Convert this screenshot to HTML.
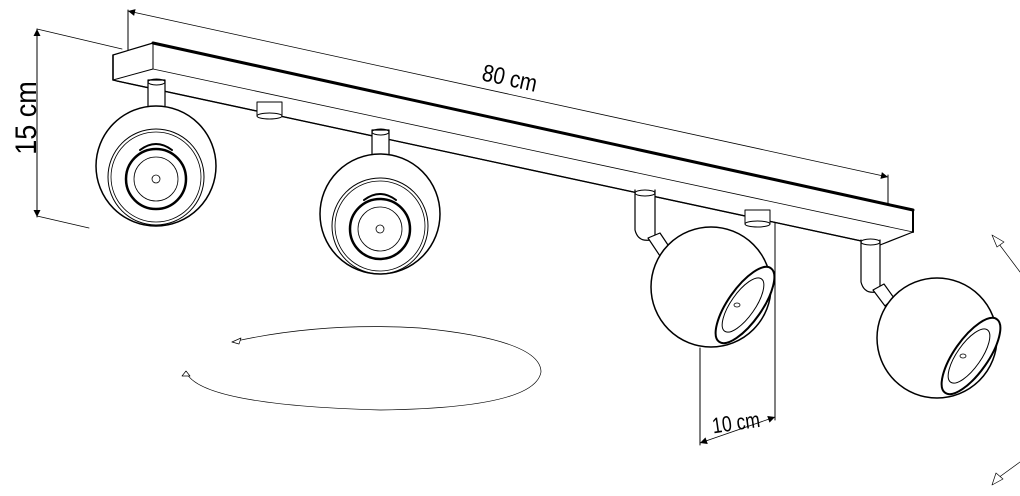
<!DOCTYPE html>
<html><head><meta charset="utf-8"><style>
html,body{margin:0;padding:0;background:#fff;}
svg{display:block;}
text{font-family:"Liberation Sans",Arial,sans-serif;fill:#000;}
</style></head><body>
<svg width="1020" height="496" viewBox="0 0 1020 496" xmlns="http://www.w3.org/2000/svg">
<defs>
<marker id="fa" viewBox="0 0 10 10" refX="10" refY="5" markerWidth="16" markerHeight="7" orient="auto-start-reverse" markerUnits="userSpaceOnUse"><path d="M0,0 L10,5 L0,10 z" fill="#000"/></marker>
</defs>
<g fill="none" stroke="#000" stroke-linecap="round" stroke-linejoin="round">
<line x1="128" y1="50" x2="128" y2="10" stroke-width="1"/>
<line x1="888" y1="205" x2="888" y2="175" stroke-width="1"/>
<line x1="128" y1="11" x2="888" y2="177" stroke-width="0.8" marker-start="url(#fa)" marker-end="url(#fa)"/>
<line x1="37" y1="29" x2="37" y2="217" stroke-width="1" marker-start="url(#fa)" marker-end="url(#fa)"/>
<line x1="37" y1="29" x2="122" y2="49" stroke-width="0.8"/>
<line x1="37" y1="216" x2="89" y2="228" stroke-width="0.8"/>
<line x1="700" y1="348" x2="700" y2="445" stroke-width="1"/>
<line x1="775" y1="195" x2="775" y2="420" stroke-width="1"/>
<line x1="700" y1="443" x2="775" y2="417" stroke-width="0.8" marker-start="url(#fa)" marker-end="url(#fa)"/>

<polygon points="113,55 153,43 913,210 913,232 880,245 117,81 113,80" fill="#fff" stroke-width="1.2"/>
<line x1="153" y1="43" x2="913" y2="210" stroke-width="3"/>
<line x1="153" y1="43" x2="153" y2="69" stroke-width="1"/>
<line x1="113" y1="55" x2="113" y2="80" stroke-width="1.5"/>
<line x1="113" y1="80" x2="153" y2="69" stroke-width="1"/>
<line x1="153" y1="69" x2="913" y2="232" stroke-width="0.8"/>
<line x1="117" y1="81" x2="880" y2="245" stroke-width="1.3"/>
<line x1="913" y1="210" x2="913" y2="232" stroke-width="2"/>
<rect x="257" y="102" width="25" height="14" fill="#fff" stroke-width="1"/>
<ellipse cx="269.5" cy="116" rx="12.5" ry="3" fill="#fff" stroke-width="1"/>
<rect x="745" y="210" width="25" height="14" fill="#fff" stroke-width="1"/>
<ellipse cx="757.5" cy="224" rx="12.5" ry="3" fill="#fff" stroke-width="1"/>

<rect x="148" y="80" width="17" height="30" fill="#fff" stroke-width="1.2"/>
<ellipse cx="156.5" cy="82" rx="8.5" ry="3" stroke-width="1"/>
<circle cx="156" cy="166" r="60" fill="#fff" stroke-width="1.5"/>
<circle cx="156" cy="177" r="48" stroke-width="1"/>
<circle cx="156" cy="177" r="45" stroke-width="0.8"/>
<circle cx="156" cy="179" r="30" stroke-width="2.5"/>
<circle cx="156" cy="179" r="22" stroke-width="0.8"/>
<circle cx="156" cy="179" r="4" stroke-width="0.8"/>
<path d="M140,150 Q156,138 172,150" stroke-width="2"/>

<rect x="372" y="130" width="17" height="26" fill="#fff" stroke-width="1.2"/>
<ellipse cx="380.5" cy="132" rx="8.5" ry="3" stroke-width="1"/>
<circle cx="380" cy="214" r="60" fill="#fff" stroke-width="1.5"/>
<circle cx="380" cy="226" r="48" stroke-width="1"/>
<circle cx="380" cy="226" r="45" stroke-width="0.8"/>
<circle cx="380" cy="229" r="30" stroke-width="2.5"/>
<circle cx="380" cy="229" r="22" stroke-width="0.8"/>
<circle cx="380" cy="229" r="4" stroke-width="0.8"/>
<path d="M364,200 Q380,188 396,200" stroke-width="2"/>

<path d="M635,190 L635,230 Q638,242 650,240 L655,235 L655,190" fill="#fff" stroke-width="1.2"/>
<ellipse cx="645" cy="193" rx="10" ry="3" stroke-width="1"/>
<path d="M648,238 L660,256 L670,248 L660,233 z" fill="#fff" stroke-width="1.2"/>
<circle cx="711" cy="287" r="60" fill="#fff" stroke-width="1.5"/>
<ellipse cx="745" cy="305" rx="17" ry="45" transform="rotate(35 745 305)" fill="#fff" stroke-width="2"/>
<ellipse cx="743" cy="305" rx="12" ry="32" transform="rotate(35 743 305)" stroke-width="1"/>
<ellipse cx="737" cy="305" rx="3" ry="2" stroke-width="0.8"/>

<path d="M861,240 L861,282 Q864,294 876,292 L880,287 L880,240" fill="#fff" stroke-width="1.2"/>
<ellipse cx="870.5" cy="242" rx="9.5" ry="3" stroke-width="1"/>
<path d="M873,290 L885,306 L894,298 L884,284 z" fill="#fff" stroke-width="1.2"/>
<circle cx="937" cy="338" r="60" fill="#fff" stroke-width="1.5"/>
<ellipse cx="971" cy="356" rx="17" ry="45" transform="rotate(35 971 356)" fill="#fff" stroke-width="2"/>
<ellipse cx="969" cy="356" rx="12" ry="32" transform="rotate(35 969 356)" stroke-width="1"/>
<ellipse cx="963" cy="356" rx="3" ry="2" stroke-width="0.8"/>

<path d="M232,342 Q320,322 420,328 Q541,340 541,372 Q535,408 380,410 Q200,405 186,372" stroke-width="0.7"/>
<path d="M232,342 l9,-4 l-2,6 z" stroke-width="0.7" fill="#fff"/>
<path d="M186,371 l-4,5 l8,0 z" stroke-width="0.7" fill="#fff"/>

<line x1="996" y1="240" x2="1020" y2="272" stroke-width="0.7"/>
<path d="M992,235 l12,7 l-7,5 z" fill="#fff" stroke-width="0.7"/>
<line x1="998" y1="478" x2="1020" y2="462" stroke-width="0.7"/>
<path d="M992,485 l4,-12 l7,6 z" fill="#fff" stroke-width="0.7"/>
</g>
<text x="0" y="0" font-size="24" text-anchor="middle" transform="translate(508 86) rotate(12.3) scale(0.85 1)">80 cm</text>
<text x="0" y="0" font-size="30" text-anchor="middle" transform="translate(36 118) rotate(-90) scale(0.9 1)">15 cm</text>
<text x="0" y="0" font-size="22" text-anchor="middle" transform="translate(737 430) rotate(-8) scale(0.8 1)">10 cm</text>
</svg>
</body></html>
